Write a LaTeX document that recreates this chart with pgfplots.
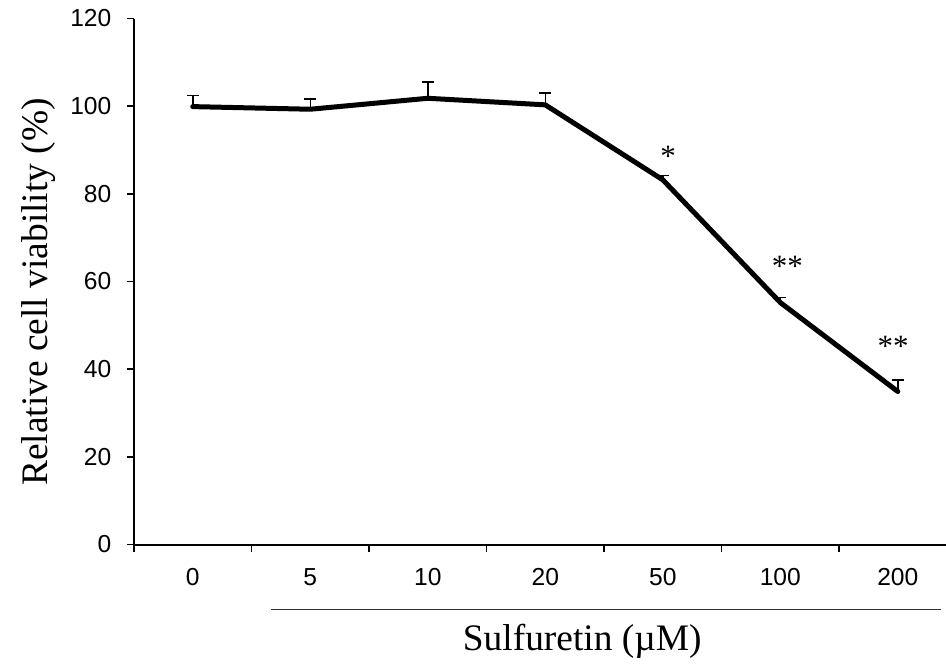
\documentclass[border=0pt]{standalone}
\usepackage{fontspec}
\setmainfont{Liberation Sans}
\newfontfamily\serif{Liberation Serif}
\usepackage{pgfplots}
\pgfplotsset{compat=1.18}
\begin{document}
\begin{tikzpicture}
\begin{axis}[
    at={(0,0)}, anchor=south west,
    scale only axis, width=406pt, height=263pt,
    xmin=-0.5, xmax=6.41, ymin=0, ymax=120,
    clip=false,
    axis x line*=bottom, axis y line*=left,
    axis line style={line width=1pt, -},
    xtick={-0.5,0.5,...,5.5}, xticklabels={},
    extra x ticks={0,1,2,3,4,5,6},
    extra x tick labels={0,5,10,20,50,100,200},
    extra x tick style={major tick length=0pt},
    ytick={0,20,...,120},
    yticklabels={0,20,40,60,80,100,120},
    tick align=outside,
    tick style={line width=0.9pt, black},
    major tick length=3.5pt,
    every tick label/.style={font=\fontsize{12.3}{14}\selectfont},
    xticklabel style={anchor=base, yshift=-20.5pt},
    yticklabel style={anchor=east, xshift=-4.3pt},
    every axis y label/.style={at={(axis description cs:-0.107,0.48)}, rotate=90, anchor=base},
    every axis x label/.style={at={(axis description cs:0.552,-0.2006)}, anchor=base},
    ylabel={\serif\fontsize{18.7}{20}\selectfont Relative cell viability (\%)},
    xlabel={\serif\fontsize{18.7}{20}\selectfont Sulfuretin (\textmu M)},
]
\addplot[black, line width=2.5pt, line cap=round, line join=round, no markers,
    error bars/.cd, y dir=plus, y explicit, error mark=-,
    error bar style={line width=0.75pt, line cap=butt},
    error mark options={rotate=90, line width=0.75pt, mark size=3pt}]
coordinates {
    (0,99.9)  +- (0,2.5)
    (1,99.3)  +- (0,2.3)
    (2,101.8) +- (0,3.7)
    (3,100.3) +- (0,2.7)
    (4,83.2)  +- (0,1.0)
    (5,55.2)  +- (0,1.2)
    (6,34.9)  +- (0,2.6)
};
\draw[line width=0.5pt, black!80] (axis description cs:0.1687,-0.1226) -- (axis description cs:0.9938,-0.1226);
\node[anchor=base, font=\serif\fontsize{15.5}{17}\selectfont] at (axis cs:4.045,86.3) {*};
\node[anchor=base, font=\serif\fontsize{15.5}{17}\selectfont] at (axis cs:5.06,61.2) {**};
\node[anchor=base, font=\serif\fontsize{15.5}{17}\selectfont] at (axis cs:5.96,43.0) {**};
\end{axis}
\pgfresetboundingbox
\useasboundingbox (-67pt,-60.75pt) rectangle (406pt,272.25pt);
\end{tikzpicture}
\end{document}
